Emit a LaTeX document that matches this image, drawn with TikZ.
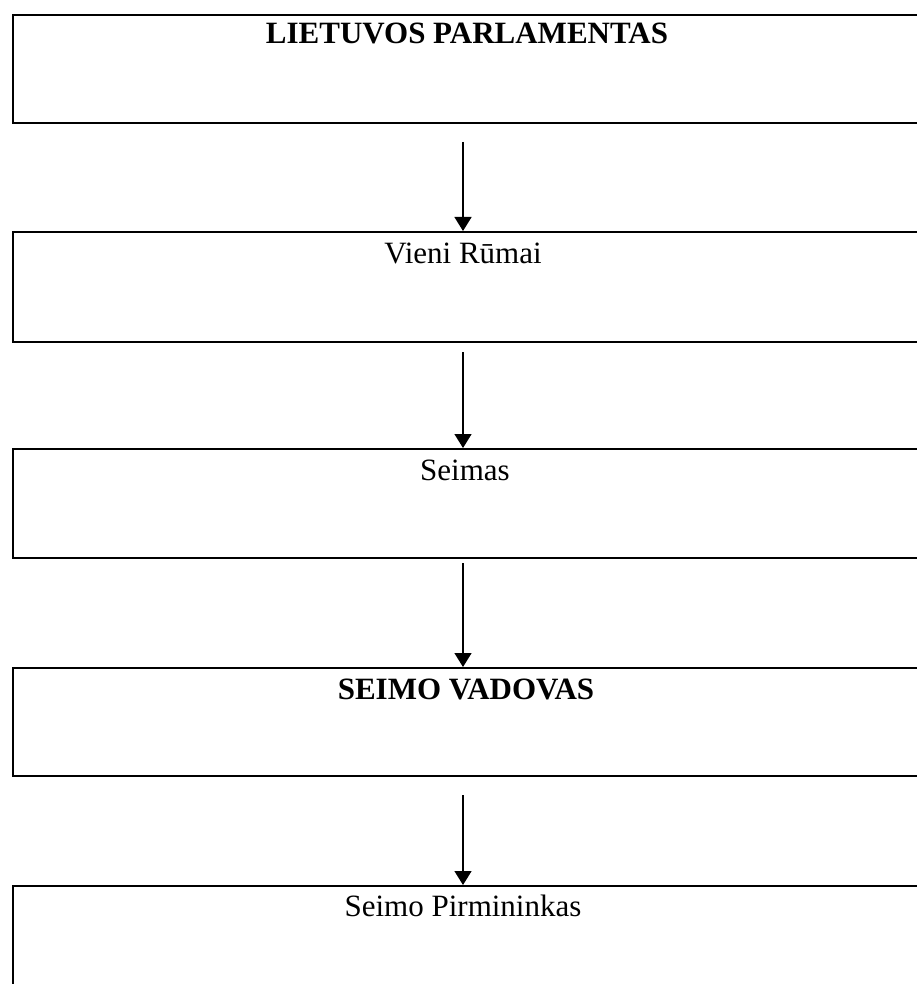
\documentclass[tikz,border=0pt]{standalone}
\usepackage{fontspec}
\setmainfont{Liberation Serif}
\usetikzlibrary{arrows.meta}
\begin{document}
\begin{tikzpicture}[x=1pt,y=-1pt,
  box/.style={draw, line width=2.3pt, minimum width=930pt, anchor=north west, inner sep=0pt},
  lbl/.style={anchor=base, font=\fontsize{31}{37}\selectfont, inner sep=0pt},
  arr/.style={line width=1.4pt, -{Triangle[width=17pt,length=14pt]}}]
\useasboundingbox (0,0) rectangle (917,984);
\clip (0,0) rectangle (917,984);
\node[box, minimum height=108pt] (b1) at (12,14) {};
\node[box, minimum height=110pt] (b2) at (12,231) {};
\node[box, minimum height=109pt] (b3) at (12,448) {};
\node[box, minimum height=108pt] (b4) at (12,667) {};
\node[box, minimum height=140pt] (b5) at (12,885) {};
\node[lbl] (t1) at (467,44) {\bfseries LIETUVOS PARLAMENTAS};
\node[lbl] (t2) at (463,263) {Vieni Rūmai};
\node[lbl] (t3) at (465,480) {Seimas};
\node[lbl] (t4) at (466,699) {\bfseries SEIMO VADOVAS};
\node[lbl] (t5) at (463,916) {Seimo Pirmininkas};
\coordinate (s1) at (463,142);
\coordinate (s2) at (463,352);
\coordinate (s3) at (463,563);
\coordinate (s4) at (463,795);
\draw[arr] (s1) -- (s1 |- b2.north);
\draw[arr] (s2) -- (s2 |- b3.north);
\draw[arr] (s3) -- (s3 |- b4.north);
\draw[arr] (s4) -- (s4 |- b5.north);
\end{tikzpicture}
\end{document}
